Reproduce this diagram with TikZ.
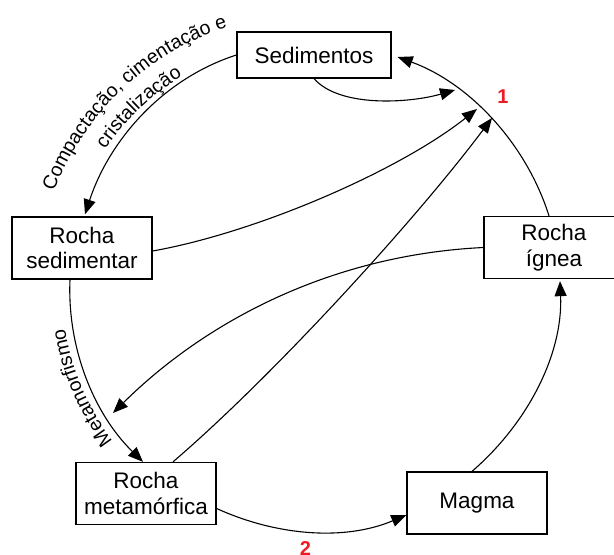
\documentclass[tikz,border=0pt]{standalone}
\usepackage{fontspec}
\setmainfont{Liberation Sans}
\usetikzlibrary{arrows.meta,decorations.text}
\definecolor{numred}{RGB}{237,28,36}
\newcommand\lblfont{\fontsize{19.5}{23}\selectfont}
\begin{document}
\begin{tikzpicture}[x=1pt,y=1pt,
  box/.style={draw=black, line width=1.3pt, fill=white, minimum width=140pt, minimum height=62pt, align=center, inner sep=2pt, font=\fontsize{22.5}{25.5}\selectfont},
  conn/.style={line width=1.1pt, -{Triangle[length=15pt,width=12pt]}},
  num/.style={text=numred, font=\fontsize{20}{24}\selectfont\bfseries, inner sep=0pt, anchor=base}
]
\clip (0,0) rectangle (614,-555);

% boxes
\node[box, minimum width=154pt, minimum height=46pt] (sedi) at (314,-55) {Sedimentos};
\node[box] (rsed) at (82,-248) {Rocha\\sedimentar};
\node[box] (rign) at (554,-247.5) {Rocha\\ígnea};
\node[box] (magma) at (477,-503) {Magma};
\node[box] (rmet) at (146,-493.5) {Rocha\\metamórfica};

% free ends on the cycle near "1" and on the left
\coordinate (cen) at (312,-290);
\coordinate (t1) at (455,-90);
\coordinate (t2) at (477,-109);
\coordinate (t3) at (492,-118);
\coordinate (t4) at (113,-413);

% outer cycle
\draw[conn] (sedi.west) .. controls (162,-79) and (109,-141) .. ([shift={(3,2)}]rsed.north);
\draw[conn] ([xshift=-12]rsed.south) .. controls (67,-348) and (94,-414) .. ([xshift=-3]rmet.north);
\draw[conn] ([yshift=-15]rmet.east) .. controls (277,-536) and (345,-541) .. ([yshift=-12]magma.west);
\draw[conn] ([xshift=-5]magma.north) .. controls (528,-423) and (563,-354) .. ([shift={(6,-2)}]rign.south);
\draw[conn] ([xshift=-5]rign.north) .. controls (526,-143) and (469,-83) .. ([shift={(6,-2)}]sedi.east);

% inner connectors
\draw[conn] (sedi.south) .. controls (340,-108) and (410,-103) .. (t1);
\draw[conn] ([yshift=-3]rsed.east) .. controls (259,-232) and (400,-170) .. (t2);
\draw[conn] ([xshift=27]rmet.north) .. controls (272,-377) and (414,-222) .. (t3);
\draw[conn] (rign.west) .. controls (330,-255) and (205,-322) .. (t4);

% curved labels
\path[decorate, decoration={text along path, text align=center,
  text={|\lblfont|Compactação, cimentação e}}]
  ([shift={(172:276)}]cen) arc[start angle=172, end angle=95, radius=276];
\path[decorate, decoration={text along path, text align=center,
  text={|\lblfont|cristalização}}]
  ([shift={(172:250)}]cen) arc[start angle=172, end angle=95, radius=250];
\path[decorate, decoration={text along path, text align=center,
  text={|\lblfont|Metamorfismo}}]
  ([shift={(-126:250)}]cen) arc[start angle=-126, end angle=-188, radius=250];

% numbers
\node[num] (n1) at (503,-103) {1};
\node[num] (n2) at (305.5,-555) {2};
\end{tikzpicture}
\end{document}
